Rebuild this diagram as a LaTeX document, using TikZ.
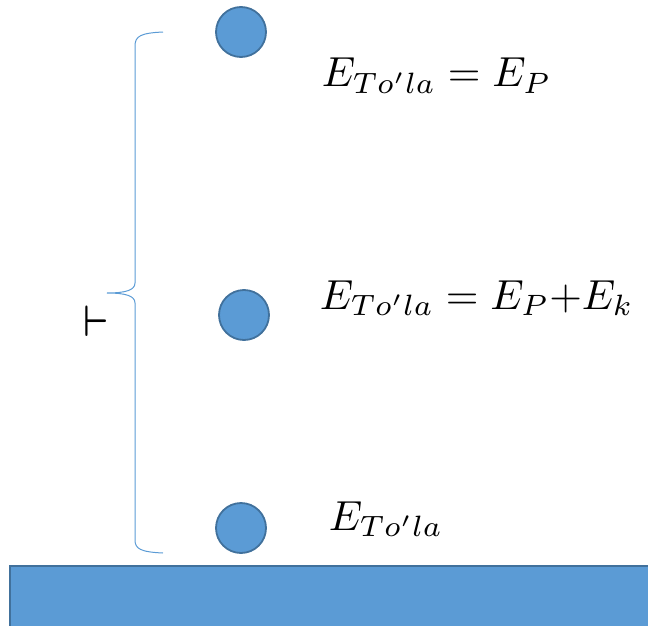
\documentclass[tikz,border=0pt]{standalone}
\usepackage{amsmath}
\usetikzlibrary{positioning}

\definecolor{ballblue}{HTML}{5B9BD5}
\definecolor{balledge}{HTML}{41719C}

\begin{document}
\begin{tikzpicture}[
    x=1pt, y=-1pt,
    ball/.style={circle, draw=balledge, fill=ballblue, line width=1.8pt, minimum size=50pt, inner sep=0pt},
    eq/.style={anchor=base west, inner sep=0pt, scale=4.2},
    brace/.style={draw=ballblue, line width=1pt}
]
    \useasboundingbox (0,0) rectangle (648,626);

    % Ground
    \path[fill=ballblue, draw=balledge, line width=1.6pt] (10,566) rectangle (670,650);

    % Balls
    \node[ball] (top) at (241,32) {};
    \node[ball] (mid) at (244,315) {};
    \node[ball] (bot) at (241,528) {};

    % Energies
    \node[eq] (etop) at (321,87) {$E_{To'la}=E_P$};
    \node[eq] (emid) at (319,309) {$E_{To'la}=E_P{+}E_k$};
    \node[eq] (ebot) at (328,530) {$E_{To'la}$};

    % Height brace
    \draw[brace] (163,32) .. controls (141,33) and (135,36) .. (135,46)
        -- (135,283) .. controls (135,290) and (126,293) .. (107,293)
        .. controls (126,293) and (135,296) .. (135,303)
        -- (135,540) .. controls (135,549) and (141,552) .. (163,553);
    \node[inner sep=0pt, xscale=3.6, yscale=4.4] (hname) at (96,321) {$\boldsymbol{\vdash}$};
\end{tikzpicture}
\end{document}
